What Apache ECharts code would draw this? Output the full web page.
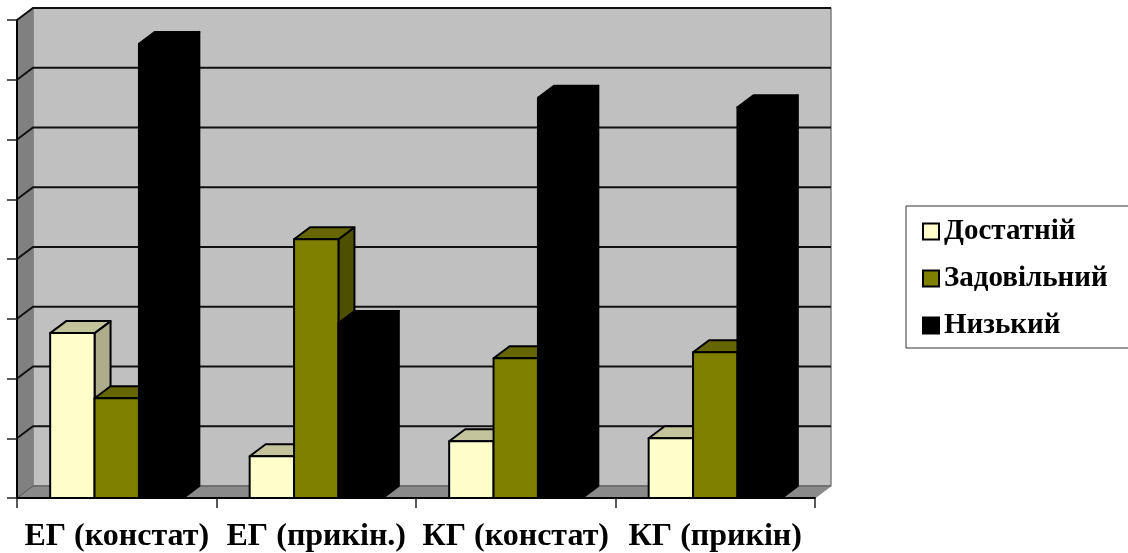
<!DOCTYPE html>
<html>
<head>
<meta charset="utf-8">
<style>
  html, body { margin: 0; padding: 0; background: #fff; }
  #chart { width: 1128px; height: 553px; }
</style>
<script src="https://cdn.jsdelivr.net/npm/echarts@6/dist/echarts.min.js"></script>
</head>
<body>
<div id="chart"></div>
<script>
const categories = ["ЕГ (констат)", "ЕГ (прикін.)", "КГ (констат)", "КГ (прикін)"];
const dostatniy = [27.6, 7, 9.5, 10];
const zadovilniy = [16.7, 43.3, 23.4, 24.4];
const nyzkyi = [76, 29.3, 67, 65.4];
const yTicks = [0, 10, 20, 30, 40, 50, 60, 70, 80];

// 3d look: depth of the box, in pixels
const DX = 16;
const DY = -12;
const fontFamily = "'Liberation Serif', serif";

function poly(points, fill, stroke, lineWidth) {
  return {
    type: "polygon",
    shape: { points },
    style: { fill, stroke: stroke || fill, lineWidth: lineWidth === undefined ? 2 : lineWidth, lineJoin: "round" },
  };
}

function line(points, color, lineWidth) {
  return {
    type: "polyline",
    shape: { points },
    style: { fill: null, stroke: color, lineWidth },
  };
}

function renderWalls(params) {
  const c = params.coordSys;
  const l = c.x, r = c.x + c.width, t = c.y, b = c.y + c.height;
  return {
    type: "group",
    children: [
      poly([[l + DX, t + DY], [r + DX, t + DY], [r + DX, b + DY], [l + DX, b + DY]], "#c0c0c0", "#808080", 1.5),
      poly([[l, t], [l + DX, t + DY], [l + DX, b + DY], [l, b]], "#808080", "#808080", 1),
      poly([[l, b], [l + DX, b + DY], [r + DX, b + DY], [r, b]], "#8a8a8a", "#8a8a8a", 1),
    ],
  };
}

function renderGridLine(params, api) {
  const c = params.coordSys;
  const p = api.coord([0, api.value(1)]);
  const y = p[1];
  // the floor line is only the thin edge of the wall
  if (api.value(1) === 0) {
    return line([[c.x, y], [c.x + DX, y + DY], [c.x + c.width + DX, y + DY]], "#555", 1);
  }
  return line([[c.x, y], [c.x + DX, y + DY], [c.x + c.width + DX, y + DY]], "#111", 2);
}

function barRenderer(index, front, top, side) {
  return function (params, api) {
    const cat = api.value(0);
    const bandW = api.size([1, 0])[0];
    const barW = bandW * 0.2225;
    const center = api.coord([cat, 0])[0];
    const x0 = center - barW * 1.5 + barW * index;
    const x1 = x0 + barW;
    const y0 = api.coord([cat, 0])[1];
    const y1 = api.coord([cat, api.value(1)])[1];
    return {
      type: "group",
      children: [
        poly([[x1, y1], [x1 + DX, y1 + DY], [x1 + DX, y0 + DY], [x1, y0]], side, "#000"),
        poly([[x0, y1], [x0 + DX, y1 + DY], [x1 + DX, y1 + DY], [x1, y1]], top, "#000"),
        poly([[x0, y1], [x1, y1], [x1, y0], [x0, y0]], front, "#000"),
      ],
    };
  };
}

function barSeries(name, values, index, front, top, side) {
  return {
    name,
    type: "custom",
    renderItem: barRenderer(index, front, top, side),
    data: values.map((v, i) => [i, v]),
    encode: { x: 0, y: 1 },
    itemStyle: { color: front },
    z: 4,
  };
}

const chart = echarts.init(document.getElementById("chart"));
chart.setOption({
  animation: false,
  backgroundColor: "#fff",
  grid: { left: 17, right: 313, top: 20, bottom: 55 },
  legend: {
    orient: "vertical",
    left: 906,
    top: 206,
    padding: [11, 60, 8, 16],
    itemGap: 18,
    itemWidth: 16,
    itemHeight: 16,
    icon: "rect",
    selectedMode: false,
    borderColor: "#333",
    borderWidth: 1,
    backgroundColor: "#fff",
    itemStyle: { borderColor: "#000", borderWidth: 2 },
    textStyle: { fontFamily, fontWeight: "bold", fontSize: 29, color: "#000" },
    data: ["Достатній", "Задовільний", "Низький"],
  },
  xAxis: {
    type: "category",
    data: categories,
    z: 5,
    axisLine: { lineStyle: { color: "#000", width: 2 } },
    axisTick: { show: true, length: 10, lineStyle: { color: "#222", width: 1.5 } },
    axisLabel: { fontFamily, fontWeight: "bold", fontSize: 32, color: "#000", margin: 23, interval: 0 },
  },
  yAxis: {
    type: "value",
    min: yTicks[0],
    max: yTicks[yTicks.length - 1],
    interval: 10,
    z: 5,
    axisLine: { show: true, lineStyle: { color: "#000", width: 2 } },
    axisTick: { show: true, length: 10, lineStyle: { color: "#222", width: 1.5 } },
    axisLabel: { show: false },
    splitLine: { show: false },
  },
  series: [
    { type: "custom", renderItem: renderWalls, data: [[0, 0]], encode: { x: 0, y: 1 }, silent: true, z: 1 },
    { type: "custom", renderItem: renderGridLine, data: yTicks.map((v) => [0, v]), encode: { x: 0, y: 1 }, silent: true, z: 2 },
    barSeries("Достатній", dostatniy, 0, "#ffffcc", "#c4c49c", "#adad8c"),
    barSeries("Задовільний", zadovilniy, 1, "#808000", "#666600", "#4f4f00"),
    barSeries("Низький", nyzkyi, 2, "#000000", "#000000", "#000000"),
  ],
});
</script>
</body>
</html>
